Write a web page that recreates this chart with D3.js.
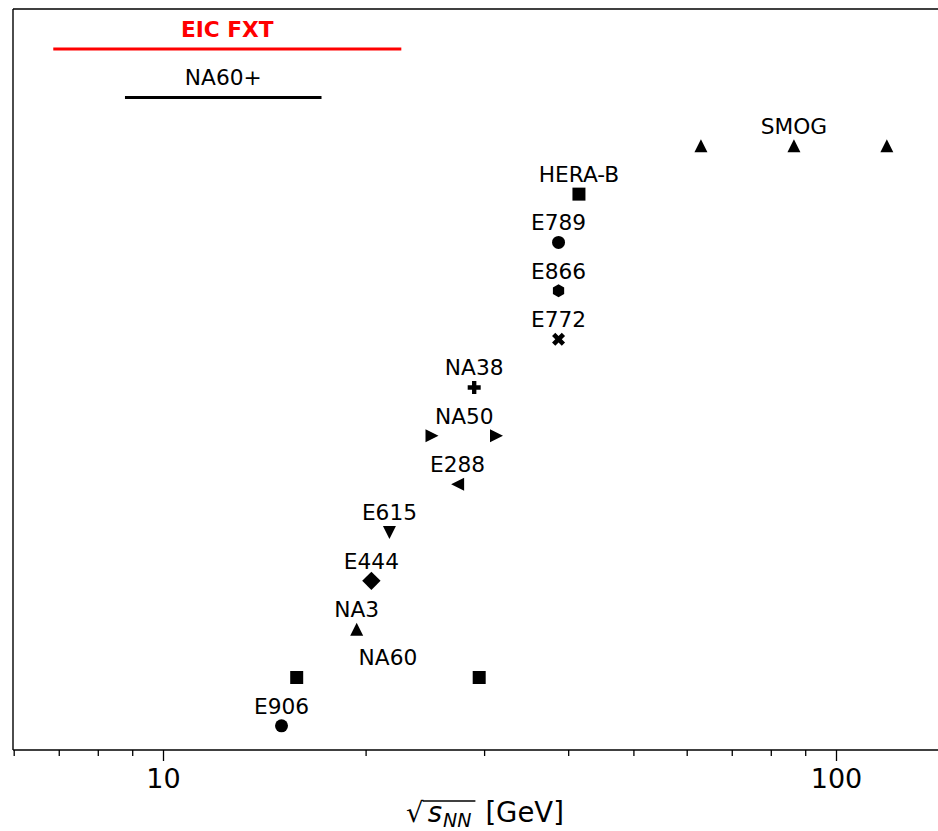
<!DOCTYPE html>
<html>
<head>
<meta charset="utf-8">
<script src="https://cdn.jsdelivr.net/npm/d3@7"></script>
<style>
  body { margin: 0; background: #fff; }
  svg { display: block; }
  text { font-family: "DejaVu Sans", sans-serif; }
</style>
</head>
<body>
<svg id="chart" width="938" height="831"></svg>
<script>
// Future facilities, drawn as energy ranges (top rows)
const facilityNames = ["EIC FXT", "NA60+"];
const facilityRanges = [[6.87, 22.6], [8.78, 17.2]];
const facilityColors = ["#ff0000", "#000000"];
const facilityWeights = ["bold", "normal"];

// Existing experiments, one row each, with their collision energies (GeV)
const experiments = ["SMOG", "HERA-B", "E789", "E866", "E772", "NA38", "NA50",
                     "E288", "E615", "E444", "NA3", "NA60", "E906"];
const energies = [
  [63.0, 86.6, 119.0],
  [41.5],
  [38.7],
  [38.7],
  [38.7],
  [29.0],
  [25.1, 31.3],
  [27.4],
  [21.7],
  [20.4],
  [19.4],
  [15.8, 29.5],
  [15.0]
];
const markerTypes = ["triangle-up", "square", "circle", "hexagon", "x", "plus",
                     "triangle-right", "triangle-left", "triangle-down", "diamond",
                     "triangle-up", "square", "circle"];

const majorTicks = [10, 100];
const minorTicks = [6, 7, 8, 9, 20, 30, 40, 50, 60, 70, 80, 90];
const xDomain = [6, 150];

// ---- layout ----
const svg = d3.select("#chart");
const plotLeft = 13, plotTop = 9, plotBottom = 750;
const decadePx = 673;
const x = d3.scaleLog()
  .domain(xDomain)
  .range([plotLeft + 0.7, plotLeft + 0.7 + decadePx * Math.log10(xDomain[1] / xDomain[0])]);

const nRows = facilityNames.length + experiments.length;
const y = d3.scaleLinear().domain([-0.83, nRows - 0.5]).range([plotTop, plotBottom]);

const labelSize = 21.7;
const labelOffset = 12;
const ms = 13;

// marker shapes, centred on the origin, size s
function poly(pts) { return "M" + pts.map(p => p.join(",")).join("L") + "Z"; }
function markerPath(type, s) {
  const h = s / 2;
  switch (type) {
    case "circle": return d3.symbol(d3.symbolCircle, Math.PI * h * h)();
    case "square": return poly([[-h, -h], [h, -h], [h, h], [-h, h]]);
    case "triangle-up": return poly([[0, -h], [h, h], [-h, h]]);
    case "triangle-down": return poly([[0, h], [h, -h], [-h, -h]]);
    case "triangle-right": return poly([[h, 0], [-h, -h], [-h, h]]);
    case "triangle-left": return poly([[-h, 0], [h, -h], [h, h]]);
    case "diamond": { const d = s * Math.SQRT1_2; return poly([[0, -d], [d, 0], [0, d], [-d, 0]]); }
    case "hexagon": {
      const pts = d3.range(6).map(i => {
        const a = -Math.PI / 2 + i * Math.PI / 3;
        return [h * Math.cos(a), h * Math.sin(a)];
      });
      return poly(pts);
    }
    case "plus": return poly([[-1, -3], [-1, -1], [-3, -1], [-3, 1], [-1, 1], [-1, 3],
                              [1, 3], [1, 1], [3, 1], [3, -1], [1, -1], [1, -3]]
                              .map(([a, b]) => [a * s / 6, b * s / 6]));
    case "x": return poly([[0.25, 0], [0.5, 0.25], [0.25, 0.5], [0, 0.25],
                           [-0.25, 0.5], [-0.5, 0.25], [-0.25, 0], [-0.5, -0.25],
                           [-0.25, -0.5], [0, -0.25], [0.25, -0.5], [0.5, -0.25]]
                           .map(([a, b]) => [a * s, b * s]));
  }
}

const geoMean = arr => Math.exp(d3.mean(arr, v => Math.log(v)));

// ---- facility ranges ----
const fac = svg.append("g").selectAll("g")
  .data(facilityNames.map((n, i) => ({ name: n, range: facilityRanges[i], color: facilityColors[i], weight: facilityWeights[i], row: i })))
  .join("g");
fac.append("line")
  .attr("x1", d => x(d.range[0])).attr("x2", d => x(d.range[1]))
  .attr("y1", d => y(d.row)).attr("y2", d => y(d.row))
  .attr("stroke", d => d.color).attr("stroke-width", 3);
fac.append("text")
  .attr("x", d => x(geoMean(d.range)))
  .attr("y", d => y(d.row) - labelOffset)
  .attr("text-anchor", "middle")
  .attr("font-size", labelSize)
  .attr("font-weight", d => d.weight)
  .attr("fill", d => d.color)
  .text(d => d.name);

// ---- experiments ----
const rows = experiments.map((n, i) => ({ name: n, values: energies[i], marker: markerTypes[i], row: i + facilityNames.length }));
const exp = svg.append("g").selectAll("g").data(rows).join("g");
exp.selectAll("path")
  .data(d => d.values.map(v => ({ v, row: d.row, marker: d.marker })))
  .join("path")
  .attr("transform", d => `translate(${x(d.v)},${y(d.row)})`)
  .attr("d", d => markerPath(d.marker, ms))
  .attr("fill", "#000");
exp.append("text")
  .attr("x", d => x(geoMean(d.values)))
  .attr("y", d => y(d.row) - labelOffset)
  .attr("text-anchor", "middle")
  .attr("font-size", labelSize)
  .attr("fill", "#000")
  .text(d => d.name);

// ---- axis ----
const axisG = svg.append("g").attr("transform", `translate(0,${plotBottom})`);
axisG.append("g")
  .call(d3.axisBottom(x).tickValues(minorTicks).tickSize(6).tickFormat(""))
  .call(g => g.select(".domain").remove())
  .call(g => g.selectAll("line").attr("stroke-width", 1.3));
axisG.append("g")
  .call(d3.axisBottom(x).tickValues(majorTicks).tickSize(11).tickPadding(8).tickFormat(d3.format("d")))
  .call(g => g.select(".domain").remove())
  .call(g => g.selectAll("line").attr("stroke-width", 1.3))
  .call(g => g.selectAll("text").attr("font-size", 27).attr("font-family", "DejaVu Sans").attr("fill", "#000"));

// ---- frame ----
const frame = svg.append("g").attr("stroke", "#000").attr("stroke-width", 1.4);
frame.append("line").attr("x1", plotLeft).attr("x2", plotLeft).attr("y1", plotTop).attr("y2", plotBottom);
frame.append("line").attr("x1", plotLeft).attr("x2", 938).attr("y1", plotTop).attr("y2", plotTop);
frame.append("line").attr("x1", plotLeft).attr("x2", 938).attr("y1", plotBottom).attr("y2", plotBottom);

// ---- x axis title: sqrt(s_NN) [GeV] ----
const titleBase = 822, titleCx = 485, titleSize = 27.5;
const tg = svg.append("g");
const tSqrt = tg.append("text").attr("font-size", titleSize).text("\u221A");
const tS = tg.append("text").attr("font-size", titleSize).attr("font-style", "italic").text("s");
const tNN = tg.append("text").attr("font-size", 19).attr("font-style", "italic").text("NN");
const tUnit = tg.append("text").attr("font-size", titleSize).text("[GeV]");
const wSqrt = tSqrt.node().getComputedTextLength();
const wS = tS.node().getComputedTextLength();
const wNN = tNN.node().getComputedTextLength();
const wUnit = tUnit.node().getComputedTextLength();
const gap1 = 4, gap2 = 1, gap3 = 14;
const total = wSqrt + gap1 + wS + gap2 + wNN + gap3 + wUnit;
let cx = titleCx - total / 2;
tSqrt.attr("x", cx).attr("y", titleBase);
const barStart = cx + wSqrt - 1;
cx += wSqrt + gap1;
tS.attr("x", cx).attr("y", titleBase);
cx += wS + gap2;
tNN.attr("x", cx).attr("y", titleBase + 5);
cx += wNN;
const barEnd = cx + 4;
cx += gap3;
tUnit.attr("x", cx).attr("y", titleBase);
tg.append("line")
  .attr("x1", barStart).attr("x2", barEnd)
  .attr("y1", titleBase - 21).attr("y2", titleBase - 21)
  .attr("stroke", "#000").attr("stroke-width", 1.5);
</script>
</body>
</html>
